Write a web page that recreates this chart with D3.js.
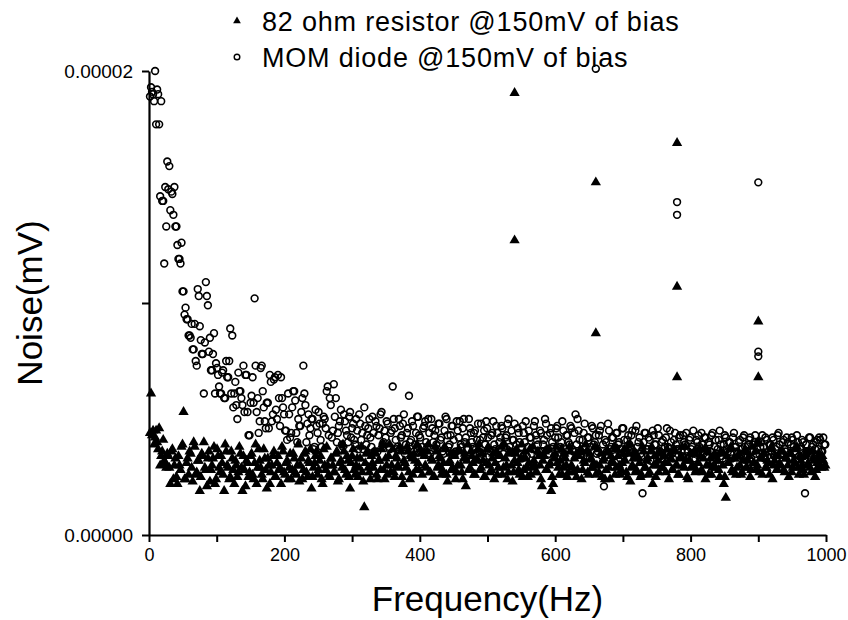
<!DOCTYPE html>
<html>
<head>
<meta charset="utf-8">
<script src="https://cdn.jsdelivr.net/npm/d3@7"></script>
<style>
  body { margin: 0; background: #fff; }
  svg { display: block; font-family: Arial, "Liberation Sans", Helvetica, sans-serif; }
</style>
</head>
<body>
<div id="chart"></div>
<script>
// values are in units of 1e-6 (axis shows 0.00000 .. 0.00002)
// sweep A: readings every 3 Hz from 3 Hz, sweep B: every 3 Hz from 1.5 Hz
var freqStep = 3;
var sweepStartA = 3;
var sweepStartB = 1.5;

var diodeNoise = [
  19.3, 19.0, 20.0, 19.2, 17.7, 18.7, 14.4, 15.0, 16.1, 15.9,
  14.8, 13.8, 13.3, 12.5, 11.9, 12.6, 10.5, 9.8, 9.3, 8.6,
  9.1, 8.0, 7.5, 10.6, 9.0, 7.8, 6.1, 10.9, 9.9, 8.5,
  7.1, 8.7, 7.4, 6.9, 6.1, 7.0, 5.9, 7.5, 6.8, 8.9,
  8.6, 6.1, 5.6, 7.0, 6.2, 5.6, 5.3, 6.9, 4.3, 5.7,
  6.8, 10.2, 5.3, 4.4, 7.2, 6.2, 4.9, 5.7, 4.6, 6.6,
  5.2, 6.8, 5.0, 5.9, 6.8, 5.5, 4.5, 4.1, 5.2, 4.4,
  6.2, 5.8, 4.0, 4.7, 5.3, 7.3, 5.6, 4.8, 4.3, 5.0,
  3.7, 5.4, 4.4, 4.8, 3.8, 5.1, 4.6, 6.4, 5.9, 4.2,
  6.5, 5.9, 4.4, 4.9, 3.9, 5.2, 4.5, 4.0, 5.3, 4.6,
  4.1, 5.0, 3.7, 4.8, 4.4, 5.5, 3.9, 4.6, 4.2, 5.1,
  3.6, 4.7, 4.3, 5.2, 3.9, 4.5, 4.9, 3.8, 4.4, 6.4,
  4.6, 3.7, 5.0, 4.2, 4.8, 3.5, 4.4, 6.0, 4.1, 4.7,
  3.9, 5.1, 4.3, 3.6, 4.6, 4.9, 3.8, 4.4, 5.0, 4.0,
  4.5, 3.7, 4.8, 4.2, 3.5, 5.1, 4.3, 3.9, 4.7, 4.1,
  3.6, 4.5, 4.9, 3.8, 5.0, 4.2, 3.4, 4.6, 4.0, 4.4,
  3.7, 4.8, 4.1, 3.5, 4.5, 4.9, 4.2, 3.6, 4.4, 3.9,
  4.7, 3.3, 4.2, 4.6, 3.8, 4.3, 5.0, 3.6, 4.1, 4.8,
  3.9, 4.4, 3.5, 4.7, 4.0, 3.4, 4.5, 4.2, 3.7, 4.9,
  4.1, 3.6, 4.4, 3.9, 5.0, 4.3, 3.5, 4.6, 3.8, 4.2,
  4.7, 3.4, 4.0, 4.5, 3.7, 4.3, 3.9, 4.6, 3.6, 5.2,
  5.0, 4.1, 3.5, 4.4, 3.8, 4.2, 3.3, 4.7, 3.9, 4.3,
  3.6, 4.5, 3.4, 2.1, 4.0, 4.8, 3.7, 4.2, 3.5, 4.4,
  3.9, 3.3, 4.6, 4.1, 3.6, 4.3, 3.8, 4.5, 3.4, 4.7,
  4.0, 3.5, 1.8, 4.4, 3.7, 4.2, 3.2, 4.5, 3.9, 3.6,
  4.3, 3.4, 4.1, 3.8, 4.6, 3.5, 4.0, 3.3, 4.4, 3.7,
  4.2, 3.6, 4.3, 3.9, 3.4, 4.1, 3.7, 4.5, 3.3, 4.0,
  3.8, 4.4, 3.5, 4.2, 3.6, 3.9, 4.3, 3.2, 4.1, 3.7,
  4.5, 3.4, 3.9, 4.2, 3.6, 4.0, 3.3, 4.4, 3.8, 3.5,
  4.1, 3.7, 4.3, 3.4, 3.9, 4.2, 3.6, 4.0, 3.5, 4.0,
  3.8, 4.3, 3.3, 4.1, 3.6, 3.9, 4.2, 3.4, 3.8, 4.4,
  3.5, 4.0, 3.7, 4.2, 3.3, 3.9, 4.1, 3.6, 4.3, 3.4,
  3.8, 4.0, 1.8, 3.6, 4.2, 3.5, 3.9, 3.7, 4.1, 4.2,
  3.6, 4.2, 3.9
];

var diodeNoiseB = [
  18.9, 19.1, 18.7, 17.7, 19.0, 14.6, 14.4, 11.7, 13.3, 14.9,
  14.0, 14.7, 15.0, 13.3, 11.9, 11.7, 10.5, 9.5, 9.3, 8.6,
  8.5, 8.0, 9.1, 7.3, 10.3, 8.4, 7.8, 8.3, 10.3, 7.9,
  7.1, 7.8, 6.1, 7.2, 6.4, 6.1, 7.1, 5.9, 6.8, 7.5,
  6.1, 5.5, 6.6, 5.0, 6.2, 5.9, 7.3, 6.9, 5.3, 4.3,
  6.0, 5.7, 7.3, 5.9, 4.9, 7.3, 5.5, 4.6, 5.7, 6.9,
  4.9, 6.7, 5.4, 6.9, 4.7, 5.9, 5.2, 4.5, 6.1, 4.2,
  5.5, 6.2, 4.4, 5.0, 4.7, 5.9, 6.1, 4.0, 5.2, 4.6,
  5.0, 3.8, 4.7, 5.3, 4.1, 4.8, 5.0, 6.2, 4.3, 5.6,
  4.5, 5.1, 4.0, 4.7, 5.4, 3.8, 4.9, 4.3, 5.1, 4.2,
  4.8, 3.9, 4.5, 5.2, 4.1, 3.7, 4.7, 4.3, 5.0, 3.8,
  4.4, 4.9, 3.6, 4.6, 5.3, 4.0, 4.2, 4.8, 3.7, 4.5,
  5.0, 4.1, 3.8, 4.7, 4.3, 5.2, 3.9, 4.6, 4.0, 4.9,
  3.6, 4.4, 5.1, 4.2, 3.8, 4.7, 4.0, 5.0, 3.5, 4.6,
  4.3, 3.9, 4.8, 4.1, 3.6, 4.5, 5.0, 3.8, 4.3, 4.7,
  3.5, 4.9, 4.2, 3.9, 4.6, 4.0, 3.7, 5.0, 4.4, 3.8,
  4.5, 4.1, 3.6, 4.8, 4.2, 3.9, 4.6, 3.4, 4.3, 4.9,
  3.7, 4.4, 4.0, 4.7, 3.5, 4.2, 4.8, 3.8, 4.5, 4.1,
  3.6, 4.6, 4.0, 3.3, 4.4, 4.9, 3.8, 4.2, 3.5, 4.7,
  4.3, 3.9, 4.5, 3.6, 4.1, 4.8, 3.7, 4.4, 4.0, 3.4,
  4.6, 4.2, 3.8, 4.9, 3.5, 4.3, 4.0, 4.7, 3.7, 4.4,
  3.9, 4.5, 3.6, 4.1, 4.8, 3.4, 4.2, 3.8, 4.6, 4.0,
  3.5, 4.3, 4.7, 3.9, 4.1, 3.6, 4.5, 3.8, 4.2, 3.4,
  4.4, 4.0, 3.7, 4.6, 3.5, 4.1, 3.9, 4.3, 3.6, 4.5,
  3.8, 4.2, 3.4, 4.0, 4.4, 3.7, 4.1, 3.5, 4.3, 3.9,
  4.6, 3.6, 4.0, 3.3, 4.2, 3.8, 4.5, 3.5, 4.1, 3.9,
  3.7, 4.3, 3.4, 4.0, 4.4, 3.6, 4.2, 3.8, 3.5, 4.1,
  4.3, 3.7, 3.9, 4.2, 3.4, 4.0, 3.6, 4.4, 3.8, 3.5,
  4.1, 3.9, 3.3, 4.3, 3.7, 4.0, 3.5, 4.2, 3.8, 3.6,
  4.0, 3.4, 4.2, 3.8, 3.6, 4.1, 3.3, 3.9, 4.3, 3.7,
  3.5, 4.0, 3.8, 4.2, 3.4, 3.9, 3.6, 4.1, 3.7, 4.3,
  3.9, 3.5, 4.1, 3.6, 4.0, 3.3, 4.2, 3.8, 3.5, 4.0,
  3.7, 4.1, 3.4, 3.9, 3.6, 4.2, 3.8, 3.5, 4.0, 3.7,
  4.1, 3.6, 3.9
];

var resistorNoise = [
  6.1, 4.5, 4.2, 4.0, 4.6, 3.4, 4.1, 3.1, 3.5, 2.9,
  3.6, 2.4, 3.3, 2.2, 3.0, 3.8, 5.3, 2.4, 3.3, 3.6,
  2.9, 4.0, 2.6, 3.2, 1.9, 3.5, 4.0, 2.8, 3.3, 2.3,
  3.0, 3.8, 2.4, 3.4, 2.7, 3.1, 1.9, 3.6, 2.9, 2.5,
  3.3, 2.2, 3.0, 2.7, 3.5, 1.9, 2.8, 3.2, 2.5, 3.4,
  2.6, 3.1, 2.2, 3.7, 2.9, 2.4, 3.3, 2.0, 3.0, 2.7,
  3.4, 2.5, 3.1, 2.8, 2.2, 3.6, 2.6, 3.2, 2.9, 2.4,
  3.5, 2.7, 3.0, 2.3, 3.3, 2.8, 3.6, 2.5, 3.1, 2.0,
  2.9, 3.4, 2.6, 3.2, 2.4, 3.7, 2.8, 3.0, 2.5, 3.3,
  2.7, 3.5, 2.3, 3.1, 2.9, 3.6, 2.6, 3.2, 2.0, 3.4,
  2.8, 3.0, 2.5, 3.3, 2.7, 1.2, 3.5, 2.9, 2.4, 3.1,
  3.6, 2.6, 3.2, 2.8, 3.9, 2.4, 3.0, 3.4, 2.7, 3.7,
  2.5, 3.3, 2.9, 3.6, 2.2, 3.1, 3.8, 2.7, 3.4, 2.6,
  3.2, 3.9, 2.8, 3.5, 2.0, 3.0, 3.6, 2.7, 3.3, 2.5,
  3.8, 2.9, 3.4, 2.6, 3.1, 3.7, 2.3, 3.2, 2.8, 3.5,
  2.4, 3.0, 3.6, 2.7, 3.3, 2.1, 3.9, 2.9, 3.4, 2.6,
  3.2, 3.7, 2.8, 3.5, 2.5, 3.1, 3.8, 2.7, 3.3, 2.4,
  3.6, 2.9, 3.4, 2.6, 3.9, 3.0, 2.7, 3.5, 2.3, 3.2,
  3.7, 2.8, 3.3, 2.5, 3.6, 2.9, 3.1, 2.6, 3.8, 3.0,
  2.7, 3.4, 2.4, 3.2, 3.6, 2.8, 3.0, 1.9, 2.2, 3.5,
  3.1, 2.6, 3.7, 2.9, 3.3, 2.5, 3.8, 3.0, 2.7, 3.4,
  2.8, 3.6, 2.4, 3.2, 3.9, 2.7, 3.5, 2.9, 3.1, 2.6,
  3.7, 3.0, 2.5, 3.3, 2.8, 3.6, 2.4, 3.2, 3.8, 2.9,
  3.4, 2.6, 3.1, 3.7, 2.7, 3.5, 2.3, 3.0, 3.6, 2.8,
  3.3, 2.5, 3.8, 2.9, 3.2, 2.6, 3.6, 2.2, 3.4, 3.0,
  2.7, 3.5, 2.9, 3.1, 3.7, 2.4, 3.3, 2.8, 3.6, 3.0,
  2.6, 3.4, 3.0, 3.8, 2.5, 3.2, 2.9, 3.5, 2.7, 3.1,
  3.7, 2.8, 3.3, 2.4, 3.6, 3.0, 2.6, 3.4, 2.9, 3.2,
  2.5, 3.5, 2.2, 1.6, 3.1, 3.7, 2.8, 3.3, 2.6, 3.4,
  3.0, 2.7, 3.6, 2.9, 3.2, 2.5, 3.8, 3.1, 2.8, 4.0,
  3.3, 2.6, 3.5, 2.9, 3.1, 3.7, 2.4, 3.2, 2.8, 3.4,
  3.0, 3.6, 2.7, 3.3, 2.5, 3.5, 2.9, 3.1, 3.8, 2.6,
  3.2, 2.8, 3.4, 3.0, 3.6, 2.7, 3.3, 2.5, 3.1, 3.5,
  2.9, 3.2, 3.0
];

var resistorNoiseB = [
  4.4, 4.3, 3.9, 4.5, 3.7, 3.0, 3.6, 3.2, 2.9, 3.4,
  2.2, 3.7, 3.0, 2.5, 3.4, 2.8, 3.9, 2.4, 3.1, 2.6,
  3.5, 2.3, 3.8, 2.7, 3.2, 2.5, 3.4, 2.9, 2.1, 3.6,
  2.8, 3.3, 2.2, 3.7, 2.9, 3.4, 2.6, 3.9, 3.0, 2.4,
  3.6, 2.8, 3.2, 2.5, 3.8, 2.9, 3.4, 2.1, 3.1, 2.7,
  3.5, 2.4, 3.9, 2.9, 3.2, 2.6, 3.7, 2.8, 3.3, 2.2,
  3.0, 3.6, 2.5, 3.4, 2.9, 3.8, 2.7, 3.1, 2.4, 3.5,
  2.8, 3.3, 2.6, 3.9, 3.0, 2.4, 3.5, 2.7, 3.2, 3.7,
  2.5, 3.1, 3.6, 2.8, 3.4, 2.2, 3.0, 3.8, 2.6, 3.3,
  3.0, 2.7, 3.6, 2.4, 3.2, 3.9, 2.8, 3.4, 2.5, 3.1,
  3.7, 2.6, 3.3, 2.9, 3.8, 2.3, 3.1, 3.6, 2.7, 3.4,
  2.9, 3.5, 2.4, 3.2, 3.7, 2.8, 3.3, 2.6, 3.9, 3.0,
  2.7, 3.4, 3.0, 3.8, 2.5, 3.2, 2.9, 3.6, 2.4, 3.3,
  3.5, 2.8, 3.1, 3.7, 2.6, 3.4, 2.9, 3.9, 2.7, 3.2,
  2.5, 3.6, 3.0, 3.3, 2.8, 3.8, 2.6, 3.1, 3.5, 2.9,
  3.4, 2.7, 3.7, 3.0, 2.4, 3.5, 3.2, 2.8, 3.6, 3.1,
  2.6, 3.3, 3.9, 2.9, 3.2, 2.5, 3.7, 3.0, 2.8, 3.5,
  3.1, 2.6, 3.4, 3.8, 2.9, 3.3, 2.4, 3.6, 3.0, 2.7,
  3.5, 3.1, 2.6, 3.9, 2.8, 3.3, 2.5, 3.7, 2.9, 3.2,
  2.7, 3.6, 3.0, 2.1, 3.4, 2.8, 3.7, 3.1, 2.5, 3.3,
  3.8, 2.9, 3.2, 2.6, 3.5, 3.0, 2.7, 3.6, 2.9, 3.3,
  2.5, 3.4, 3.7, 2.8, 3.1, 3.6, 2.6, 3.3, 2.9, 3.8,
  3.0, 2.7, 3.5, 3.2, 2.4, 3.6, 2.9, 3.4, 3.1, 2.6,
  3.7, 3.0, 2.8, 3.5, 3.2, 2.5, 3.9, 2.9, 3.3, 2.7,
  3.4, 3.1, 2.6, 3.6, 2.9, 3.3, 2.7, 3.8, 3.0, 2.5,
  3.2, 3.6, 2.9, 3.4, 2.7, 3.1, 3.5, 2.8, 3.7, 3.0,
  2.6, 3.3, 3.8, 2.9, 3.2, 2.4, 3.5, 3.0, 3.6, 2.8,
  3.1, 3.4, 2.7, 3.7, 3.0, 2.6, 3.3, 2.9, 3.5, 3.2,
  2.8, 3.6, 3.0, 2.5, 3.4, 3.1, 3.8, 2.7, 3.3, 2.9,
  3.5, 2.6, 3.2, 3.7, 2.9, 3.4, 2.8, 3.1, 3.6, 3.0,
  2.7, 3.3, 3.5, 2.9, 3.2, 2.6, 3.8, 3.0, 3.4, 2.8,
  3.1, 3.6, 2.8, 3.3, 3.0, 3.5, 2.7, 3.2, 3.7, 2.9,
  3.4, 3.0, 2.6, 3.5, 3.1, 2.9, 3.6, 3.2, 2.8, 3.3,
  3.0, 3.4, 2.9
];

// pick-up at odd harmonics of 60 Hz: [frequency, noise]
var resistorPeaks = [[540, 19.05], [540, 12.7], [660, 15.2], [660, 8.7],
  [780, 16.9], [780, 10.7], [780, 6.8], [900, 9.2], [900, 6.8]];
var diodePeaks = [[660, 20.1], [780, 14.35], [780, 13.8], [900, 15.2],
  [900, 7.9], [900, 7.7]];

var legendLabels = ["82 ohm resistor @150mV of bias", "MOM diode @150mV of bias"];
var xTicks = [0, 100, 200, 300, 400, 500, 600, 700, 800, 900, 1000];
var xLabelled = [0, 200, 400, 600, 800, 1000];
var yTicks = [0, 10, 20];
var yLabelled = [0, 20];

var svgWidth = 848;
var svgHeight = 620;

var margin = { top: 71, right: 22, bottom: 85, left: 149 };
var width = svgWidth - margin.left - margin.right;
var height = svgHeight - margin.top - margin.bottom;

var svg = d3.select("#chart")
  .append("svg")
  .attr("width", svgWidth)
  .attr("height", svgHeight);

var chartGroup = svg.append("g")
  .attr("transform", `translate(${margin.left}, ${margin.top})`);

var xScale = d3.scaleLinear().domain([0, 1000]).range([0, width]);
var yScale = d3.scaleLinear().domain([0, 20]).range([height, 0]);

var toPoints = function(arr, start) {
  return arr.map((v, i) => [start + i * freqStep, v]);
};
var resistorPts = toPoints(resistorNoise, sweepStartA)
  .concat(toPoints(resistorNoiseB, sweepStartB), resistorPeaks);
var diodePts = toPoints(diodeNoise, sweepStartA)
  .concat(toPoints(diodeNoiseB, sweepStartB), diodePeaks);

// axes
var bottomAxis = d3.axisBottom(xScale)
  .tickValues(xTicks)
  .tickSizeInner(7).tickSizeOuter(0)
  .tickPadding(6)
  .tickFormat(d => xLabelled.includes(d) ? d : "");
var leftAxis = d3.axisLeft(yScale)
  .tickValues(yTicks)
  .tickSizeInner(7).tickSizeOuter(0)
  .tickPadding(9)
  .tickFormat(d => yLabelled.includes(d) ? d3.format(".5f")(d * 1e-6) : "");

var xAxisG = chartGroup.append("g")
  .attr("transform", `translate(0, ${height})`)
  .call(bottomAxis);
var yAxisG = chartGroup.append("g").call(leftAxis);

[xAxisG, yAxisG].forEach(function(g) {
  g.select(".domain").attr("stroke", "#000").attr("stroke-width", 2.2);
  g.selectAll(".tick line").attr("stroke", "#000").attr("stroke-width", 2);
  g.selectAll(".tick text").attr("fill", "#000").style("font-size", "18px");
});
yAxisG.selectAll(".tick text").style("font-size", "19px");

// resistor (filled triangles)
var tri = d3.symbol().type(d3.symbolTriangle).size(46);
chartGroup.append("g")
  .selectAll("path")
  .data(resistorPts)
  .enter()
  .append("path")
  .attr("d", tri)
  .attr("transform", d => `translate(${xScale(d[0])}, ${yScale(d[1])})`)
  .attr("fill", "#000");

// diode (open circles)
chartGroup.append("g")
  .selectAll("circle")
  .data(diodePts)
  .enter()
  .append("circle")
  .attr("cx", d => xScale(d[0]))
  .attr("cy", d => yScale(d[1]))
  .attr("r", 3.4)
  .attr("fill", "none")
  .attr("stroke", "#000")
  .attr("stroke-width", 1.6);

// legend
var legend = svg.append("g");
legend.append("path")
  .attr("d", d3.symbol().type(d3.symbolTriangle).size(26))
  .attr("transform", "translate(237, 21)")
  .attr("fill", "#000");
legend.append("circle")
  .attr("cx", 237).attr("cy", 57).attr("r", 2.8)
  .attr("fill", "none").attr("stroke", "#000").attr("stroke-width", 1.4);
legend.selectAll("text")
  .data(legendLabels)
  .enter()
  .append("text")
  .attr("x", 262)
  .attr("y", (d, i) => 31 + i * 36)
  .style("font-size", "27px")
  .style("letter-spacing", "0.8px")
  .text(d => d);

// axis titles
svg.append("text")
  .attr("transform", `translate(42, ${margin.top + height / 2}) rotate(-90)`)
  .attr("text-anchor", "middle")
  .style("font-size", "35px")
  .text("Noise(mV)");

svg.append("text")
  .attr("x", margin.left + width / 2)
  .attr("y", 611)
  .attr("text-anchor", "middle")
  .style("font-size", "35px")
  .text("Frequency(Hz)");
</script>
</body>
</html>
